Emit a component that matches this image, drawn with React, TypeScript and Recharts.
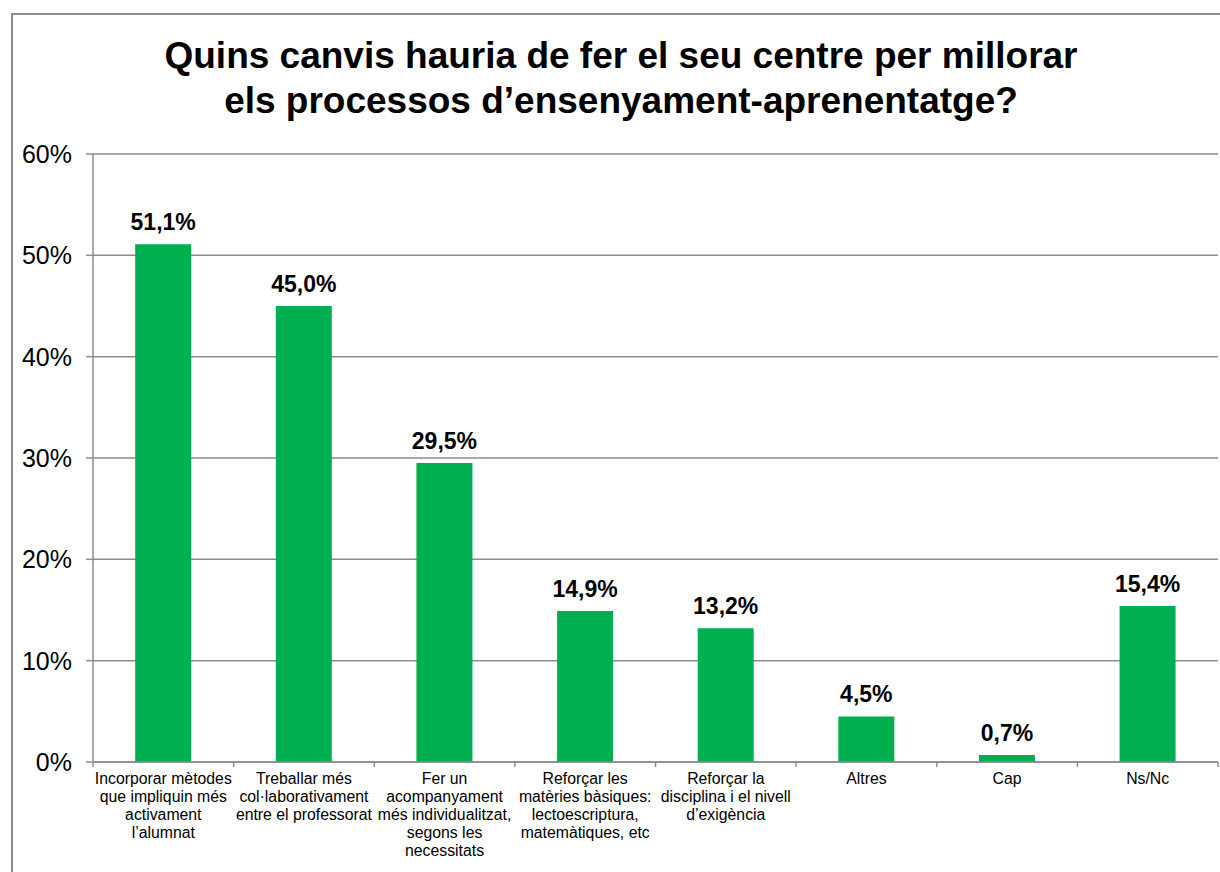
import React from 'react';
import { BarChart, Bar, XAxis, YAxis, CartesianGrid, LabelList } from 'recharts';

const categories = [
  'Incorporar mètodes\nque impliquin més\nactivament\nl’alumnat',
  'Treballar més\ncol·laborativament\nentre el professorat',
  'Fer un\nacompanyament\nmés individualitzat,\nsegons les\nnecessitats',
  'Reforçar les\nmatèries bàsiques:\nlectoescriptura,\nmatemàtiques, etc',
  'Reforçar la\ndisciplina i el nivell\nd’exigència',
  'Altres',
  'Cap',
  'Ns/Nc',
];
const values = [51.1, 45.0, 29.5, 14.9, 13.2, 4.5, 0.7, 15.4];
const yTicks = [0, 10, 20, 30, 40, 50, 60];
const titleLines = [
  'Quins canvis hauria de fer el seu centre per millorar',
  'els processos d’ensenyament-aprenentatge?',
];

const data = categories.map((name, i) => ({ name, value: values[i] }));

const W = 1220;
const H = 872;
const PLOT_LEFT = 93;
const PLOT_RIGHT = 1218;
const PLOT_TOP = 154;
const PLOT_BOTTOM = 762;
const Y_AXIS_W = 80;
const step = (PLOT_RIGHT - PLOT_LEFT) / categories.length;
const axisColor = '#8c8c8c';
const font = '"Liberation Sans", Arial, sans-serif';

const CategoryTick = (props: any) => {
  const { x, y, payload, index } = props;
  const lines = String(payload.value).split('\n');
  const left = x - step / 2;
  return (
    <g>
      <line x1={left} x2={left} y1={PLOT_BOTTOM} y2={PLOT_BOTTOM + 5} stroke={axisColor} strokeWidth={1.5} />
      {index === categories.length - 1 && (
        <line x1={left + step} x2={left + step} y1={PLOT_BOTTOM} y2={PLOT_BOTTOM + 5} stroke={axisColor} strokeWidth={1.5} />
      )}
      <text x={x} y={y + 14} textAnchor="middle" fontSize={15.8} fontFamily={font} fill="#000">
        {lines.map((l, i) => (
          <tspan key={i} x={x} dy={i === 0 ? 0 : 18}>
            {l}
          </tspan>
        ))}
      </text>
    </g>
  );
};

export default function App() {
  return (
    <div style={{ position: 'fixed', left: 0, top: 0, width: W, height: H, background: '#fff', overflow: 'hidden' }}>
      <div
        style={{
          position: 'absolute',
          left: 11,
          top: 13,
          width: W,
          height: H,
          borderLeft: '2px solid #8c8c8c',
          borderTop: '2px solid #8c8c8c',
        }}
      />
      <div
        style={{
          position: 'absolute',
          left: 0,
          top: 33,
          width: 1242,
          textAlign: 'center',
          fontFamily: font,
          fontWeight: 'bold',
          fontSize: 37,
          lineHeight: '45px',
          color: '#000',
        }}
      >
        {titleLines.map((t, i) => (
          <div key={i}>{t}</div>
        ))}
      </div>
      <div style={{ position: 'absolute', left: 0, top: 0 }}>
        <BarChart
          width={W}
          height={H}
          data={data}
          margin={{ top: PLOT_TOP, left: PLOT_LEFT - Y_AXIS_W, right: W - PLOT_RIGHT, bottom: 0 }}
          barCategoryGap="30%"
        >
          <CartesianGrid vertical={false} stroke={axisColor} strokeWidth={1.5} />
          <XAxis
            dataKey="name"
            interval={0}
            tickLine={false}
            axisLine={{ stroke: axisColor, strokeWidth: 1.5 }}
            height={H - PLOT_BOTTOM}
            tick={<CategoryTick />}
          />
          <YAxis
            width={Y_AXIS_W}
            domain={[0, 60]}
            ticks={yTicks}
            tickFormatter={(v: number) => `${v}%`}
            tickSize={7}
            tickMargin={14}
            tickLine={{ stroke: axisColor, strokeWidth: 1.5 }}
            axisLine={{ stroke: axisColor, strokeWidth: 1.5 }}
            tick={{ fill: '#000', fontSize: 25, fontFamily: font }}
          />
          <Bar dataKey="value" fill="#00b050" isAnimationActive={false}>
            <LabelList
              dataKey="value"
              position="top"
              offset={14}
              formatter={(v: any) => `${Number(v).toFixed(1).replace('.', ',')}%`}
              style={{ fill: '#000', fontSize: 23, fontWeight: 'bold', fontFamily: font }}
            />
          </Bar>
        </BarChart>
      </div>
    </div>
  );
}
